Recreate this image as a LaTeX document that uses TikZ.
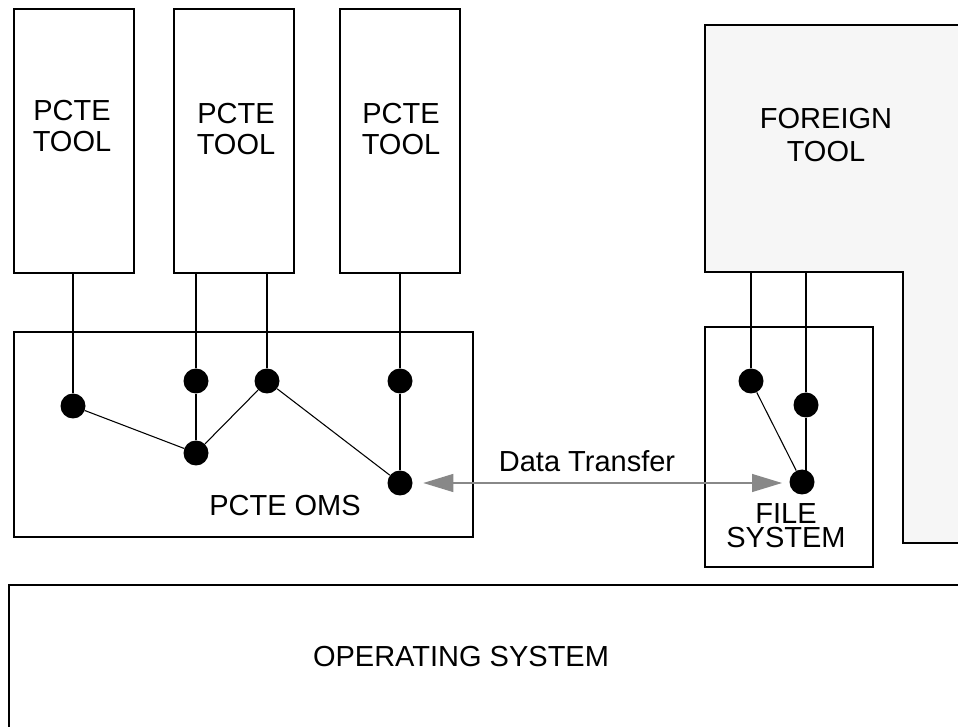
\documentclass[tikz,border=0pt]{standalone}
\usepackage{fontspec}
\setmainfont{Liberation Sans}
\usetikzlibrary{arrows.meta}
\definecolor{foreignfill}{RGB}{246,246,246}
\definecolor{transfergray}{RGB}{136,136,136}
\begin{document}
\begin{tikzpicture}[x=0.75pt,y=-0.75pt,
  box/.style={draw=black,line width=1pt,rectangle,inner sep=0pt},
  lbl/.style={inner sep=0pt,align=center,font=\fontsize{21.75}{23.25}\selectfont},
  dot/.style={circle,fill=black,inner sep=0pt,minimum size=18.75pt},
  wire/.style={draw=black,line width=0.8pt},
  datarrow/.style={draw=transfergray,line width=0.9pt,
    {Triangle[length=22.5pt,width=13.5pt]}-{Triangle[length=22.5pt,width=13.5pt]}}]
\useasboundingbox (0,0) rectangle (958,727);
\clip (0,0) rectangle (958,727);

% foreign tool outline (runs past the right edge)
\path[fill=foreignfill,draw=black,line width=1pt]
  (705,272) -- (705,25) -- (990,25) -- (990,543) -- (903,543) -- (903,272) -- cycle;
\node[lbl,font=\fontsize{21.75}{24.75}\selectfont] (ftxt) at (826,135) {FOREIGN\\TOOL};

% PCTE tools
\node[box,minimum width=90pt,minimum height=198pt] (t1) at (74,141) {};
\node[box,minimum width=90pt,minimum height=198pt] (t2) at (234,141) {};
\node[box,minimum width=90pt,minimum height=198pt] (t3) at (400,141) {};
\node[lbl] (t1txt) at (72,126.5) {PCTE\\TOOL};
\node[lbl] (t2txt) at (236,129.5) {PCTE\\TOOL};
\node[lbl] (t3txt) at (401,129.5) {PCTE\\TOOL};

% object management system
\node[box,minimum width=344.25pt,minimum height=153.75pt] (oms) at (243.5,434.5) {};
\node[lbl] (omstxt) at (285,505.5) {PCTE OMS};

% file system
\node[box,fill=white,minimum width=126pt,minimum height=180pt] (fs) at (789,447) {};
\node[lbl,font=\fontsize{21.75}{18.5}\selectfont] (fstxt) at (786,525.5) {FILE\\SYSTEM};

% operating system (runs past the right and bottom edges)
\node[box,minimum width=735pt,minimum height=120pt] (os) at (499,665) {};
\node[lbl,anchor=base] (ostxt) at (461,666) {OPERATING SYSTEM};

% OMS objects
\node[dot] (d1) at (73,406) {};
\node[dot] (d2) at (196,381) {};
\node[dot] (d3) at (196,453) {};
\node[dot] (d4) at (267,381) {};
\node[dot] (d5) at (400,381) {};
\node[dot] (d6) at (400,483) {};

% file system objects
\node[dot] (f1) at (751,381) {};
\node[dot] (f2) at (806,405) {};
\node[dot] (f3) at (802,482) {};

% tool attachments
\draw[wire] (d1) -- (d1 |- t1.south);
\draw[wire] (d2) -- (d2 |- t2.south);
\draw[wire] (d4) -- (d4 |- t2.south);
\draw[wire] (d5) -- (d5 |- t3.south);
\draw[wire] (f1) -- (f1 |- 0,272);
\draw[wire] (f2) -- (f2 |- 0,272);

% links between objects
\draw[wire] (d1) -- (d3);
\draw[wire] (d3) -- (d2);
\draw[wire] (d3) -- (d4);
\draw[wire] (d4) -- (d6);
\draw[wire] (d5) -- (d6);
\draw[wire] (f1) -- (f3);
\draw[wire] (f2) -- (f2 |- f3);

% data transfer
\draw[datarrow,shorten <=7.9pt,shorten >=15pt] (d6) -- (d6 -| f3);
\node[lbl,anchor=base] (dttxt) at (587,472) {Data Transfer};
\end{tikzpicture}
\end{document}
